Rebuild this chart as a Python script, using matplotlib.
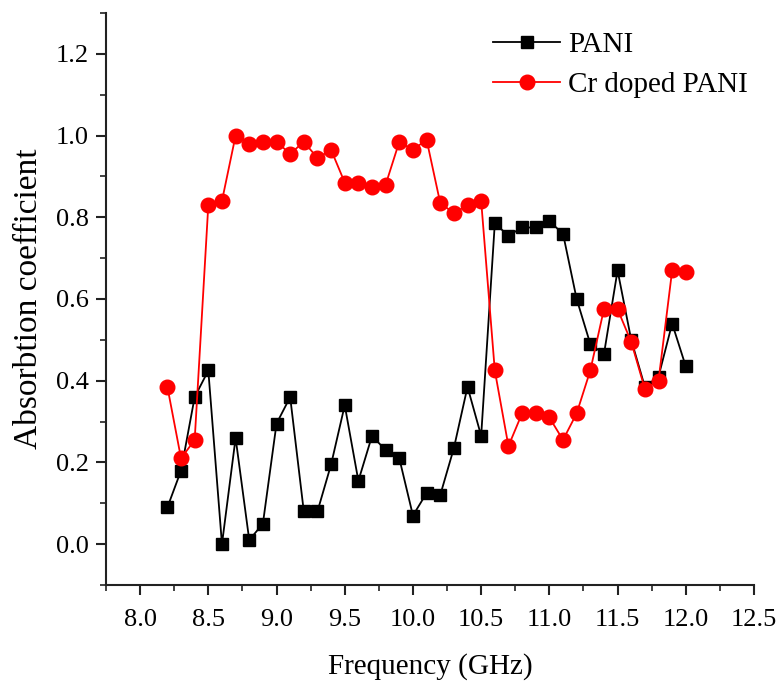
import matplotlib
matplotlib.use("Agg")
import matplotlib.pyplot as plt
from matplotlib.ticker import MultipleLocator

plt.rcParams['font.family'] = ['Liberation Serif', 'DejaVu Serif']

freq = [8.2, 8.3, 8.4, 8.5, 8.6, 8.7, 8.8, 8.9, 9.0, 9.1, 9.2, 9.3, 9.4, 9.5, 9.6,
        9.7, 9.8, 9.9, 10.0, 10.1, 10.2, 10.3, 10.4, 10.5, 10.6, 10.7, 10.8, 10.9,
        11.0, 11.1, 11.2, 11.3, 11.4, 11.5, 11.6, 11.7, 11.8, 11.9, 12.0]

pani = [0.09, 0.18, 0.36, 0.425, 0.0, 0.26, 0.01, 0.05, 0.295, 0.36, 0.08, 0.08,
        0.195, 0.34, 0.155, 0.265, 0.23, 0.21, 0.07, 0.125, 0.12, 0.235, 0.385,
        0.265, 0.785, 0.755, 0.775, 0.775, 0.79, 0.76, 0.60, 0.49, 0.465, 0.67,
        0.50, 0.385, 0.41, 0.54, 0.435]

cr_pani = [0.385, 0.21, 0.255, 0.83, 0.84, 1.0, 0.98, 0.985, 0.985, 0.955, 0.985,
           0.945, 0.965, 0.885, 0.885, 0.875, 0.88, 0.985, 0.965, 0.99, 0.835, 0.81,
           0.83, 0.84, 0.425, 0.24, 0.32, 0.32, 0.31, 0.255, 0.32, 0.425, 0.575,
           0.575, 0.495, 0.38, 0.40, 0.67, 0.665]

x_ticks = [8.0, 8.5, 9.0, 9.5, 10.0, 10.5, 11.0, 11.5, 12.0, 12.5]
y_ticks = [0.0, 0.2, 0.4, 0.6, 0.8, 1.0, 1.2]

fig = plt.figure(figsize=(7.82, 6.91), dpi=100)
ax = fig.add_axes([106/782, 1 - 585/691, (754-106)/782, (585-13)/691])

ax.plot(freq, pani, color='black', marker='s', markersize=9, linewidth=1.3,
        label='PANI')
ax.plot(freq, cr_pani, color='#ff0000', marker='o', markersize=10.5, linewidth=1.3,
        label='Cr doped PANI')

ax.set_xlim(7.75, 12.5)
ax.set_ylim(-0.1, 1.3)
ax.xaxis.set_minor_locator(MultipleLocator(0.25))
ax.yaxis.set_minor_locator(MultipleLocator(0.1))
ax.set_xticks(x_ticks)
ax.set_yticks(y_ticks)
ax.set_xticklabels([f"{v:.1f}" for v in x_ticks])
ax.set_yticklabels([f"{v:.1f}" for v in y_ticks])

for s in ['top', 'right']:
    ax.spines[s].set_visible(False)
for s in ['left', 'bottom']:
    ax.spines[s].set_linewidth(1.5)
    ax.spines[s].set_color('#222222')

ax.tick_params(axis='both', which='major', direction='out', length=7.5, width=1.5,
               labelsize=19, color='#222222')
ax.tick_params(axis='x', which='major', pad=10)
ax.tick_params(axis='y', which='major', pad=5)
ax.tick_params(axis='both', which='minor', direction='out', length=4, width=1.2,
               color='#222222')

ax.set_xlabel('Frequency (GHz)', fontsize=21, labelpad=16)
ax.set_ylabel('Absorbtion coefficient', fontsize=24, labelpad=8)

ax.legend(loc='upper left', bbox_to_anchor=(493/782, 1 - 32/691),
          bbox_transform=fig.transFigure, frameon=False, fontsize=21,
          handlelength=2.3, handletextpad=0.28, labelspacing=0.45,
          borderpad=0, borderaxespad=0)

fig.savefig('out.png', dpi=100)
